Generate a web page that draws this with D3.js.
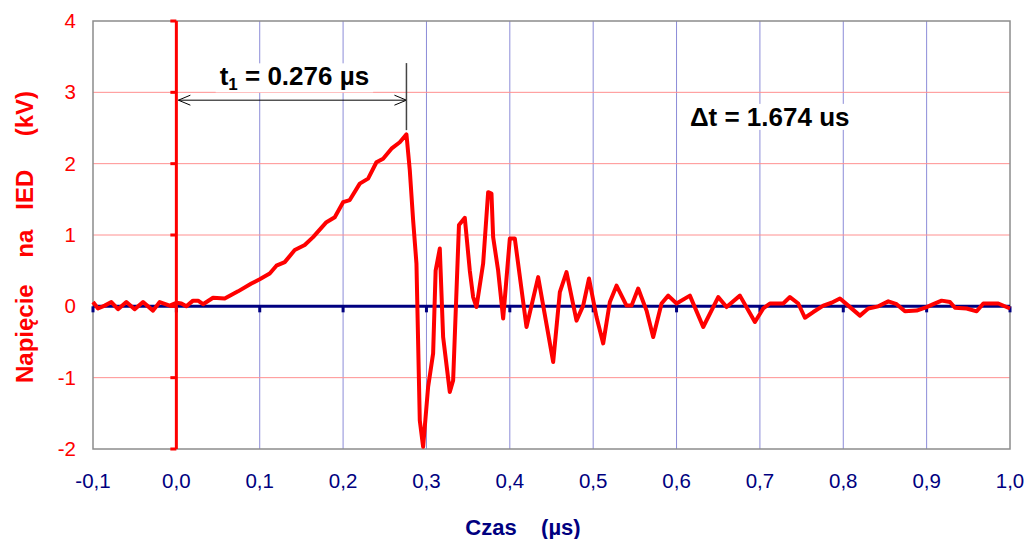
<!DOCTYPE html>
<html>
<head>
<meta charset="utf-8">
<script src="https://cdn.jsdelivr.net/npm/d3@7"></script>
<style>
  body { margin: 0; background: #fff; }
  svg { font-family: "Liberation Sans", Arial, sans-serif; }
</style>
</head>
<body>
<svg id="chart" width="1027" height="539"></svg>
<script>
// waveform: time (µs) and voltage (kV)
let time = [-0.100, -0.094, -0.086, -0.078, -0.070, -0.060, -0.050, -0.040, -0.028, -0.020, -0.008,
    0.000, 0.006, 0.012, 0.020, 0.026, 0.032, 0.044, 0.058, 0.074, 0.090, 0.100, 0.112, 0.120, 0.130,
    0.142, 0.154, 0.164, 0.180, 0.190, 0.200, 0.208, 0.220, 0.230, 0.240, 0.248, 0.258, 0.268, 0.276,
    0.280, 0.284, 0.288, 0.292, 0.296, 0.302, 0.308, 0.311, 0.316, 0.320, 0.328, 0.332, 0.339, 0.346,
    0.352, 0.356, 0.360, 0.368, 0.374, 0.378, 0.380, 0.386, 0.392, 0.400, 0.406, 0.420, 0.434, 0.452,
    0.460, 0.468, 0.480, 0.488, 0.495, 0.504, 0.512, 0.520, 0.528, 0.540, 0.546, 0.554, 0.564, 0.572,
    0.582, 0.590, 0.600, 0.616, 0.632, 0.650, 0.660, 0.676, 0.694, 0.704, 0.712, 0.728, 0.736, 0.746,
    0.754, 0.764, 0.776, 0.786, 0.796, 0.806, 0.820, 0.830, 0.842, 0.854, 0.864, 0.874, 0.888, 0.900,
    0.908, 0.918, 0.928, 0.934, 0.948, 0.960, 0.968, 0.986, 1.000];

let voltage = [0.06, -0.03, 0.01, 0.06, -0.04, 0.06, -0.04, 0.06, -0.06, 0.06, 0.01,
    0.05, 0.04, 0.00, 0.08, 0.08, 0.03, 0.12, 0.11, 0.21, 0.32, 0.38, 0.46, 0.57, 0.62,
    0.79, 0.86, 0.97, 1.18, 1.25, 1.46, 1.49, 1.72, 1.79, 2.02, 2.07, 2.21, 2.30, 2.41,
    1.91, 1.21, 0.60, -1.60, -1.97, -1.13, -0.66, 0.50, 0.81, -0.43, -1.20, -1.04, 1.14, 1.24,
    0.50, 0.13, -0.01, 0.60, 1.60, 1.58, 0.97, 0.50, -0.17, 0.95, 0.95, -0.29, 0.41, -0.78,
    0.20, 0.48, -0.20, 0.01, 0.39, -0.15, -0.52, 0.06, 0.29, 0.01, 0.01, 0.25, -0.06, -0.43,
    0.04, 0.15, 0.04, 0.15, -0.29, 0.13, -0.01, 0.15, -0.22, -0.03, 0.04, 0.04, 0.13, 0.04,
    -0.16, -0.08, 0.01, 0.05, 0.11, 0.01, -0.13, -0.03, 0.00, 0.07, 0.03, -0.07, -0.06, -0.01,
    0.03, 0.08, 0.06, -0.02, -0.03, -0.07, 0.04, 0.04, -0.03];

let x_ticks = [-0.1, 0.0, 0.1, 0.2, 0.3, 0.4, 0.5, 0.6, 0.7, 0.8, 0.9, 1.0];
let x_tick_labels = ["-0,1", "0,0", "0,1", "0,2", "0,3", "0,4", "0,5", "0,6", "0,7", "0,8", "0,9", "1,0"];
let y_ticks = [-2, -1, 0, 1, 2, 3, 4];

let t1 = 0.276;

/*** SCALES ***/
let svg = d3.select("#chart");
let margin = {top: 21, right: 17, bottom: 90, left: 93},
    width = 1027 - margin.left - margin.right,
    height = 539 - margin.top - margin.bottom;

let x = d3.scaleLinear().domain([-0.1, 1.0]).range([margin.left, margin.left + width]),
    y = d3.scaleLinear().domain([-2, 4]).range([margin.top + height, margin.top]);

let navy = "#000080", red = "#ff0000";

/*** GRID ***/
svg.selectAll("line.vgrid")
    .data(x_ticks.filter((d) => d > 0.05 && d < 0.95)).enter()
    .append("line")
    .attr("x1", (d) => x(d)).attr("x2", (d) => x(d))
    .attr("y1", y(4)).attr("y2", y(-2))
    .attr("stroke", "#8c8cd8").attr("stroke-width", 1);

svg.selectAll("line.hgrid")
    .data(y_ticks.filter((d) => d != 0 && d > -2 && d < 4)).enter()
    .append("line")
    .attr("x1", x(-0.1)).attr("x2", x(1.0))
    .attr("y1", (d) => y(d)).attr("y2", (d) => y(d))
    .attr("stroke", "#ff9090").attr("stroke-width", 1);

// plot border
svg.append("rect")
    .attr("x", x(-0.1)).attr("y", y(4))
    .attr("width", x(1.0) - x(-0.1)).attr("height", y(-2) - y(4))
    .attr("fill", "none").attr("stroke", "#8c8c8c").attr("stroke-width", 1.5);

/*** ANNOTATIONS (white boxes hide the grid) ***/
let t1_label = svg.append("text")
    .attr("x", (x(0) + x(t1)) / 2 + 3)
    .attr("y", y(3.0) - 7)
    .attr("text-anchor", "middle")
    .attr("font-size", "26px").attr("font-weight", "bold").attr("fill", "#000");
t1_label.append("tspan").text("t");
t1_label.append("tspan").attr("font-size", "17px").attr("dy", "5").text("1");
t1_label.append("tspan").attr("dy", "-5").text(" = 0.276 µs");

let dt_label = svg.append("text")
    .attr("x", x(0.616))
    .attr("y", y(2.53))
    .attr("font-size", "26px").attr("font-weight", "bold").attr("fill", "#000")
    .text("Δt = 1.674 us");

[t1_label, dt_label].forEach((lbl) => {
    let b = lbl.node().getBBox();
    svg.insert("rect", "text")
        .attr("x", b.x - 4).attr("y", b.y + 2)
        .attr("width", b.width + 8).attr("height", b.height - 4)
        .attr("fill", "#fff");
});

// dimension arrow for t1
let arrow_y = y(2.89);
svg.append("line")
    .attr("x1", x(0) + 2).attr("x2", x(t1))
    .attr("y1", arrow_y).attr("y2", arrow_y)
    .attr("stroke", "#000").attr("stroke-width", 1);
svg.append("path")
    .attr("d", `M${x(0) + 14},${arrow_y - 5} L${x(0) + 2},${arrow_y} L${x(0) + 14},${arrow_y + 5}`)
    .attr("fill", "none").attr("stroke", "#000").attr("stroke-width", 1);
svg.append("path")
    .attr("d", `M${x(t1) - 12},${arrow_y - 5} L${x(t1)},${arrow_y} L${x(t1) - 12},${arrow_y + 5}`)
    .attr("fill", "none").attr("stroke", "#000").attr("stroke-width", 1);
svg.append("line")
    .attr("x1", x(t1)).attr("x2", x(t1))
    .attr("y1", y(3.41)).attr("y2", y(2.47))
    .attr("stroke", "#444").attr("stroke-width", 1.5);

/*** AXES ***/
// x axis along zero, navy
svg.append("line")
    .attr("x1", x(-0.1)).attr("x2", x(1.0))
    .attr("y1", y(0)).attr("y2", y(0))
    .attr("stroke", navy).attr("stroke-width", 3);
svg.selectAll("line.xtick")
    .data(x_ticks).enter()
    .append("line")
    .attr("x1", (d) => x(d)).attr("x2", (d) => x(d))
    .attr("y1", y(0)).attr("y2", y(0) + 6)
    .attr("stroke", navy).attr("stroke-width", 3);
svg.selectAll("text.xlabel")
    .data(x_ticks).enter()
    .append("text")
    .attr("x", (d) => x(d))
    .attr("y", y(-2) + 39)
    .attr("text-anchor", "middle")
    .attr("font-size", "20.5px").attr("fill", navy)
    .text((d, i) => x_tick_labels[i]);

// waveform
let line = d3.line()
    .x((d) => x(d[0]))
    .y((d) => y(d[1]));
svg.append("path")
    .datum(time.map((t, i) => [t, voltage[i]]))
    .attr("d", line)
    .attr("fill", "none").attr("stroke", red)
    .attr("stroke-width", 4).attr("stroke-linejoin", "round");

// y axis at t = 0, red
svg.append("line")
    .attr("x1", x(0)).attr("x2", x(0))
    .attr("y1", y(4)).attr("y2", y(-2))
    .attr("stroke", red).attr("stroke-width", 3);
svg.selectAll("line.ytick")
    .data(y_ticks).enter()
    .append("line")
    .attr("x1", x(0) - 6).attr("x2", x(0))
    .attr("y1", (d) => y(d)).attr("y2", (d) => y(d))
    .attr("stroke", red).attr("stroke-width", 3);
svg.selectAll("text.ylabel")
    .data(y_ticks).enter()
    .append("text")
    .attr("x", x(-0.1) - 17)
    .attr("y", (d) => y(d) + 7)
    .attr("text-anchor", "end")
    .attr("font-size", "20.5px").attr("fill", red)
    .text((d) => d);

/*** AXIS TITLES ***/
svg.append("text")
    .attr("x", 523).attr("y", 535)
    .attr("text-anchor", "middle")
    .attr("font-size", "22px").attr("font-weight", "bold").attr("fill", navy)
    .attr("xml:space", "preserve")
    .text("Czas    (µs)");

svg.append("text")
    .attr("transform", `translate(33, 237) rotate(-90)`)
    .attr("text-anchor", "middle")
    .attr("font-size", "24px").attr("font-weight", "bold").attr("fill", red)
    .attr("xml:space", "preserve")
    .text("Napięcie    na   IED     (kV)");
</script>
</body>
</html>
